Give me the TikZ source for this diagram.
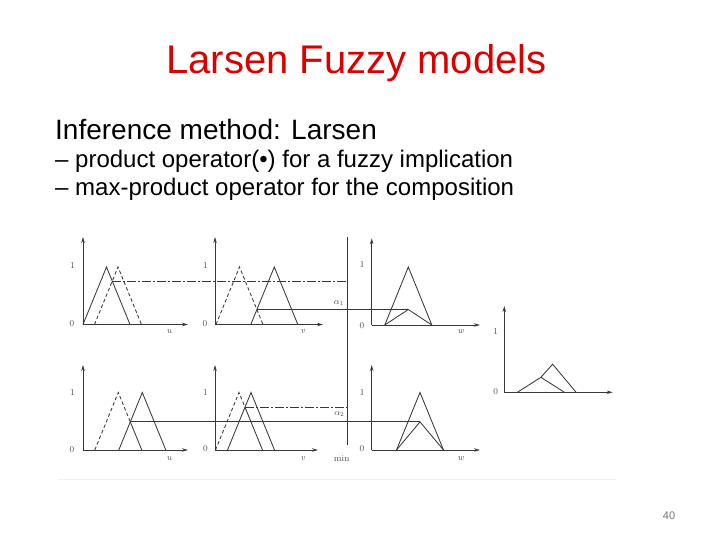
\documentclass[tikz,border=0pt]{standalone}
\usepackage{fontspec}
\setmainfont{Liberation Sans}
\newfontfamily\diagfont{Latin Modern Roman}
\usetikzlibrary{arrows.meta}
\begin{document}
\begin{tikzpicture}[x=1pt,y=-1pt,
  ln/.style={draw=black!78,line width=0.85pt},
  axis/.style={ln,-{Stealth[length=6pt,width=3.5pt]}},
  dsh/.style={ln,dash pattern=on 3.5pt off 2.5pt},
  dashdot/.style={ln,dash pattern=on 9pt off 2pt on 2pt off 2pt},
  lbl/.style={font=\diagfont\fontsize{9}{10}\selectfont,text=black!70,inner sep=0pt},
  ilbl/.style={lbl,font=\diagfont\itshape\fontsize{9}{10}\selectfont}]
\useasboundingbox (0,0) rectangle (720,540);
% texts
\node[text=red!85!black,font=\fontsize{40}{44}\selectfont,anchor=base] (title) at (356.5,74) {Larsen Fuzzy models};
\node[font=\fontsize{28}{32}\selectfont,anchor=base west,inner sep=0pt] (l1) at (55,140) {Inference method: Larsen};
\node[font=\fontsize{24}{28}\selectfont,anchor=base west,inner sep=0pt] (l2) at (55,168) {– product operator(•) for a fuzzy implication};
\node[font=\fontsize{24}{28}\selectfont,anchor=base west,inner sep=0pt] (l3) at (55,196) {– max-product operator for the composition};
\node[font=\fontsize{11}{13}\selectfont,text=black!55,anchor=center] (pg) at (669,516) {40};
% faint frame line
\draw[black!6,line width=0.8pt] (58,479) -- (617,479);
% ---------- top row ----------
% panel 1
\draw[axis] (83,324.5) -- (83,237);
\draw[axis] (83,324.5) -- (188,324.5);
\draw[ln] (83,324.5) -- (106.5,267) -- (130,324.5);
\draw[dsh] (94.5,324.5) -- (118,267) -- (141.5,324.5);
% panel 2
\draw[axis] (215,324.5) -- (215,237);
\draw[axis] (215,324.5) -- (323,324.5);
\draw[dsh] (216,324.5) -- (239.5,267) -- (263,324.5);
\draw[ln] (250.8,324.5) -- (274.3,267) -- (297.8,324.5);
% panel 3
\draw[axis] (371.7,325) -- (371.7,238.3);
\draw[axis] (371.7,325) -- (480,325);
\draw[ln] (384.8,325) -- (408.3,267) -- (431.8,325);
\draw[ln] (384.8,325) -- (408.3,309.5) -- (431.8,325);
% connecting lines
\coordinate (i1) at (112.25,281.1);
\coordinate (m1) at (347.3,281.1);
\draw[dashdot] (i1) -- (m1);
\coordinate (i2) at (256.9,309.5);
\coordinate (p3) at (408.3,309.5);
\draw[ln] (i2) -- (p3);
% ---------- bottom row ----------
% panel 5
\draw[axis] (83,450) -- (83,365);
\draw[axis] (83,450) -- (188,450);
\draw[dsh] (94.8,450) -- (118.3,392.5) -- (130.3,421.9);
\draw[ln] (130.3,421.9) -- (141.8,450);
\draw[ln] (118.8,450) -- (142.3,392.5) -- (165.8,450);
% panel 6
\draw[axis] (215,450) -- (215,365);
\draw[axis] (215,450) -- (318,450);
\draw[dsh] (215.5,450) -- (239,392.5) -- (245,407.2);
\draw[ln] (245,407.2) -- (262.5,450);
\draw[ln] (227.5,450) -- (251,392.5) -- (274.5,450);
% panel 7
\draw[axis] (371.7,450) -- (371.7,365);
\draw[axis] (371.7,450) -- (480,450);
\draw[ln] (396.5,450) -- (420,392.5) -- (443.5,450);
\draw[ln] (396.5,450) -- (420,421.9) -- (443.5,450);
\coordinate (i5) at (130.3,421.9);
\coordinate (p7) at (420,421.9);
\draw[ln] (i5) -- (p7);
\coordinate (i6) at (245,407.2);
\coordinate (m2) at (347.3,407.2);
\draw[dashdot] (i6) -- (m2);
% min line
\coordinate (mt) at (347.3,237);
\coordinate (mb) at (347.3,445);
\draw[ln] (mt) -- (mb);
% result panel
\draw[axis] (504.3,392.3) -- (504.3,306);
\draw[axis] (504.3,392.3) -- (612.7,392.3);
\draw[ln] (517.4,392.3) -- (540.9,377.3) -- (564.4,392.3);
\draw[ln] (540.9,377.3) -- (552.6,364.2) -- (576.1,392.3);
% labels
\node[lbl] (o1) at (72.5,265.7) {1};
\node[lbl] (z1) at (72,324) {0};
\node[ilbl] (u1) at (169,331.7) {u};
\node[lbl] (o2) at (205.5,265.7) {1};
\node[lbl] (z2) at (205,324) {0};
\node[ilbl] (v1) at (302.7,331.7) {v};
\node[lbl] (o3) at (362.3,264.5) {1};
\node[lbl] (z3) at (362,325.5) {0};
\node[ilbl] (w1) at (460.7,331.7) {w};
\node[lbl] (a1) at (339,302.7) {$\alpha_1$};
\node[lbl] (o5) at (72.5,392.3) {1};
\node[lbl] (z5) at (72,450) {0};
\node[ilbl] (u2) at (169,458.3) {u};
\node[lbl] (o6) at (205.5,392.3) {1};
\node[lbl] (z6) at (205.5,448.5) {0};
\node[ilbl] (v2) at (302.7,458.3) {v};
\node[lbl] (o7) at (362.3,392.3) {1};
\node[lbl] (z7) at (362,448.5) {0};
\node[ilbl] (w2) at (460.7,458.3) {w};
\node[lbl] (a2) at (339.3,414) {$\alpha_2$};
\node[lbl] (mn) at (341.7,458.3) {min};
\node[lbl] (o8) at (495.7,331.7) {1};
\node[lbl] (z8) at (495.7,392) {0};
\end{tikzpicture}
\end{document}
